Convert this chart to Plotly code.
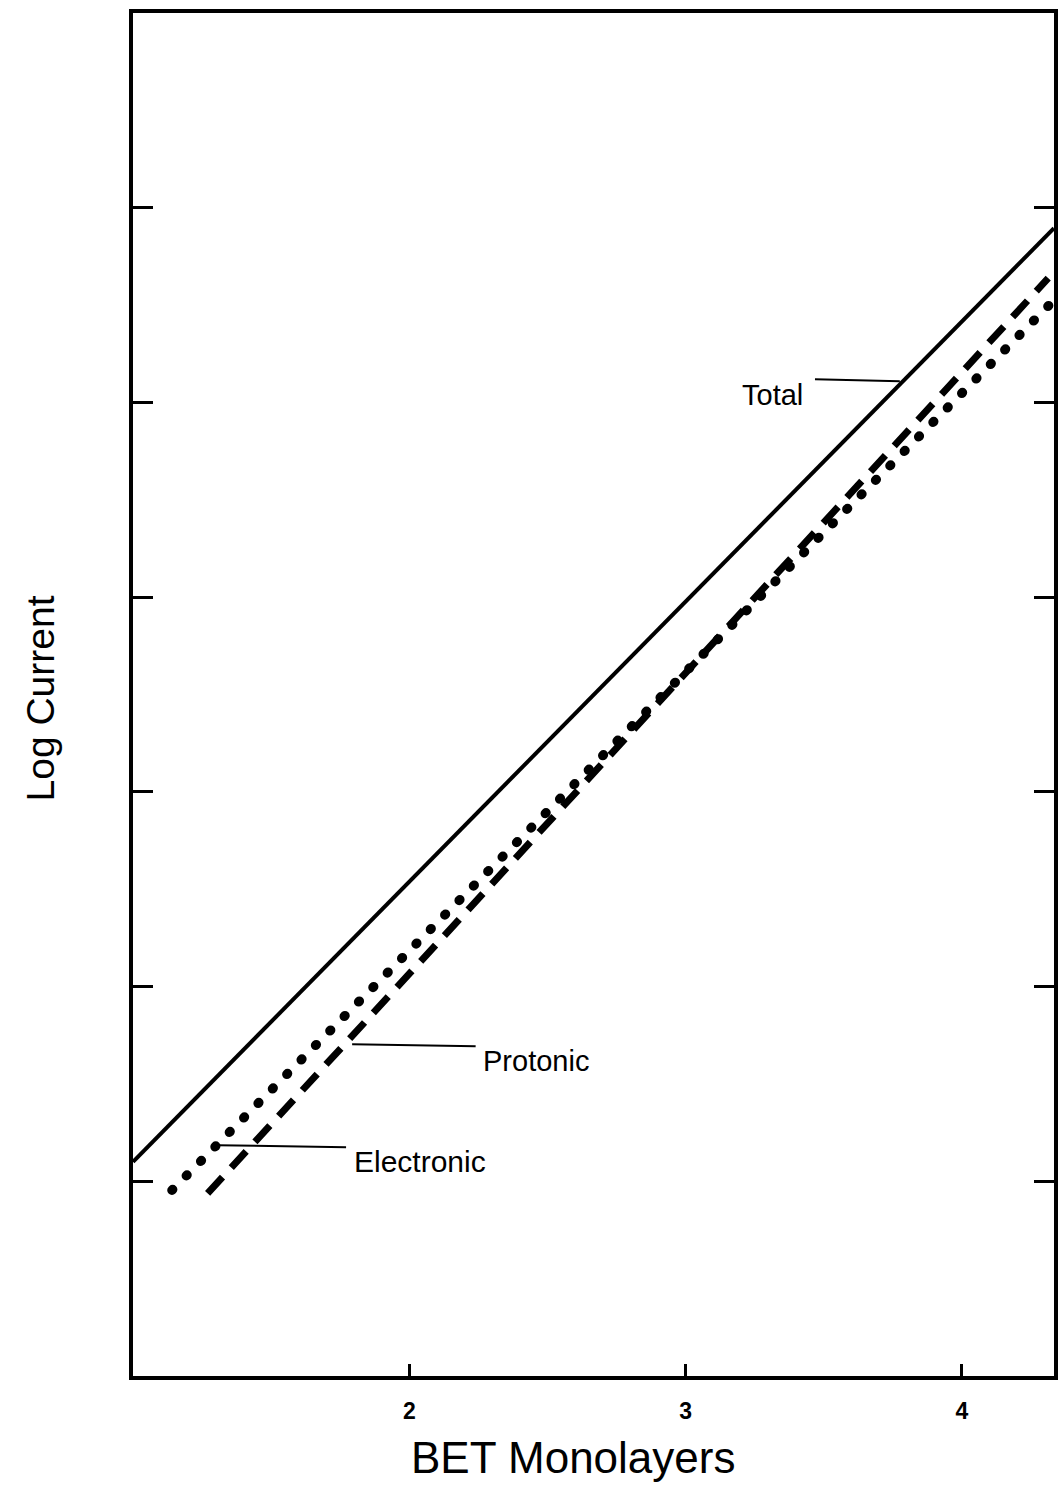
import plotly.graph_objects as go

# Data (x in BET monolayers, y in arbitrary log-current units, axis ticks 0..5 unlabeled)
total_x = [1.0, 4.333]
total_y = [0.10, 4.895]
protonic_x = [1.270, 4.312]
protonic_y = [-0.062, 4.638]
electronic_x = [1.141, 4.333]
electronic_y = [-0.046, 4.525]

x_ticks = [2, 3, 4]
x_tick_labels = ["2", "3", "4"]
y_ticks = [0, 1, 2, 3, 4, 5]

FONT = "Liberation Sans, Arial, sans-serif"

fig = go.Figure()
fig.add_trace(go.Scatter(x=total_x, y=total_y, mode="lines", name="Total",
                         line=dict(color="black", width=4)))
fig.add_trace(go.Scatter(x=protonic_x, y=protonic_y, mode="lines", name="Protonic",
                         line=dict(color="black", width=7, dash="22px,13px")))
fig.add_trace(go.Scatter(x=electronic_x, y=electronic_y, mode="lines", name="Electronic",
                         line=dict(color="black", width=9.5, dash="1px,19.4px")))

# leader lines
leaders = [
    (3.468, 4.119, 3.775, 4.109),
    (1.793, 0.704, 2.240, 0.693),
    (1.306, 0.185, 1.771, 0.175),
]
for x0, y0, x1, y1 in leaders:
    fig.add_shape(type="line", x0=x0, y0=y0, x1=x1, y1=y1, xref="x", yref="y",
                  line=dict(color="black", width=2))

fig.add_annotation(x=3.432, y=4.04, text="Total", showarrow=False, xanchor="right",
                   font=dict(family=FONT, size=29, color="black"))
fig.add_annotation(x=2.258, y=0.62, text="Protonic", showarrow=False, xanchor="left",
                   font=dict(family=FONT, size=29, color="black"))
fig.add_annotation(x=1.793, y=0.10, text="Electronic", showarrow=False, xanchor="left",
                   font=dict(family=FONT, size=30, color="black"))

# axis titles
fig.add_annotation(x=-0.1, y=0.497, xref="paper", yref="paper", text="Log Current",
                   textangle=-90, showarrow=False, xanchor="center", yanchor="middle",
                   font=dict(family=FONT, size=39, color="black"))
fig.add_annotation(x=0.478, y=-0.060, xref="paper", yref="paper", text="BET Monolayers",
                   showarrow=False, xanchor="center", yanchor="middle",
                   font=dict(family=FONT, size=44, color="black"))

fig.update_layout(
    width=1058, height=1509,
    margin=dict(l=133, r=0, t=13, b=133),
    paper_bgcolor="white", plot_bgcolor="white",
    showlegend=False,
    font=dict(family=FONT, color="black"),
)
fig.update_xaxes(range=[1.0, 4.333], tickvals=x_ticks, ticktext=x_tick_labels,
                 ticks="inside", ticklen=12, tickwidth=3, tickcolor="black",
                 showline=True, linewidth=4, linecolor="black", mirror=True,
                 showgrid=False, zeroline=False,
                 tickfont=dict(family=FONT, size=23, color="black", weight="bold"),
                 ticklabelstandoff=11)
fig.update_yaxes(range=[-1, 6], tickvals=y_ticks, showticklabels=False,
                 ticks="inside", ticklen=20, tickwidth=3, tickcolor="black",
                 showline=True, linewidth=4, linecolor="black", mirror="ticks",
                 showgrid=False, zeroline=False)

post = """
document.body.style.margin = '0';
document.body.style.overflow = 'hidden';
document.documentElement.style.overflow = 'hidden';
var paths = document.querySelectorAll('.scatterlayer .trace path.js-line');
if (paths.length >= 3) { paths[2].style.strokeLinecap = 'round'; }
"""
fig.write_html("out.html", post_script=post, config={"displayModeBar": False})
